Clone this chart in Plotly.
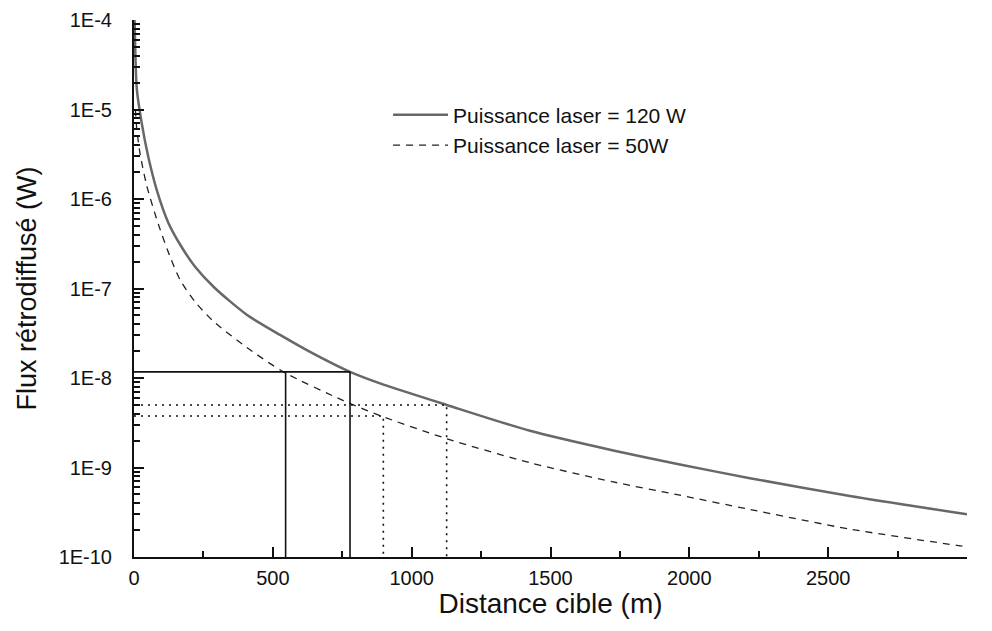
import plotly.graph_objects as go

# distance (m) / backscattered flux (W)
dist_120 = [2, 5, 10, 28, 51, 82, 124, 166, 220, 290, 406, 526, 646, 778,
            886, 1126, 1426, 1726, 1966, 2218, 2578, 3000]
flux_120 = [1.0e-4, 4.0e-5, 1.7e-5, 7.0e-6, 3.0e-6, 1.26e-6, 5.4e-7, 3.1e-7, 1.75e-7, 1.02e-7,
            5.1e-8, 3.03e-8, 1.87e-8, 1.17e-8,
            8.7e-9, 5.0e-9, 2.57e-9, 1.55e-9, 1.08e-9, 7.6e-10, 4.8e-10, 3.0e-10]

dist_50 = [5, 10, 22, 46, 88, 130, 166, 220, 286, 406, 538, 754, 886, 1126, 1426, 1726,
           1966, 2218, 2578, 2963, 3000]
flux_50 = [1.0e-5, 6.0e-6, 3.2e-6, 1.4e-6, 5.2e-7, 2.26e-7, 1.25e-7, 7.1e-8, 4.3e-8, 2.2e-8,
           1.17e-8, 5.6e-9, 3.8e-9, 2.1e-9, 1.13e-9, 6.9e-10, 4.9e-10, 3.4e-10, 2.05e-10,
           1.35e-10, 1.3e-10]

# read-off construction lines
solid_level = 1.17e-8
solid_x = [546, 778]
dotted_levels = [5.0e-9, 3.76e-9]
dotted_x = [1126, 898]

ytick_vals = [1e-10, 1e-9, 1e-8, 1e-7, 1e-6, 1e-5, 1e-4]
ytick_text = ["1E-10", "1E-9", "1E-8", "1E-7", "1E-6", "1E-5", "1E-4"]
xtick_vals = [0, 500, 1000, 1500, 2000, 2500, 3000]
# last label nudged left with non-breaking spaces so it is not cut at the window edge
xtick_text = ["0", "500", "1000", "1500", "2000", "2500", "3000\u00a0\u00a0\u00a0"]

FONT = "Liberation Sans, Arial, sans-serif"
INK = "#111111"
Y_MIN = 1e-10

fig = go.Figure()

fig.add_trace(go.Scatter(x=dist_120, y=flux_120, mode="lines",
                         name="Puissance laser = 120 W",
                         line=dict(color="#686868", width=2.5, shape="spline", smoothing=0.7)))
fig.add_trace(go.Scatter(x=dist_50, y=flux_50, mode="lines",
                         name="Puissance laser = 50W",
                         line=dict(color="#222222", width=1.3, dash="7px,6px",
                                   shape="spline", smoothing=0.7)))

# solid construction lines
fig.add_trace(go.Scatter(x=[0, max(solid_x)], y=[solid_level, solid_level], mode="lines",
                         showlegend=False, line=dict(color=INK, width=1.6)))
for xv in solid_x:
    fig.add_trace(go.Scatter(x=[xv, xv], y=[Y_MIN, solid_level], mode="lines",
                             showlegend=False, line=dict(color=INK, width=1.6)))

# dotted construction lines
for lvl, xv in zip(dotted_levels, dotted_x):
    fig.add_trace(go.Scatter(x=[0, xv, xv], y=[lvl, lvl, Y_MIN], mode="lines",
                             showlegend=False,
                             line=dict(color=INK, width=1.6, dash="2px,5px")))

fig.update_xaxes(range=[0, 3000], tickvals=xtick_vals, ticktext=xtick_text,
                 ticks="inside", ticklen=10,
                 tickwidth=1.5, tickcolor=INK, ticklabelstandoff=2, automargin=False,
                 minor=dict(ticks="inside", ticklen=6, dtick=250, tickcolor=INK),
                 showline=True, linecolor=INK, linewidth=2, showgrid=False,
                 zeroline=False, tickfont=dict(size=20, family=FONT, color=INK),
                 title=dict(text="Distance cible (m)", standoff=9,
                            font=dict(size=28, family=FONT, color=INK)))
fig.update_yaxes(type="log", range=[-10, -4], tickvals=ytick_vals, ticktext=ytick_text,
                 ticks="inside", ticklen=10, tickwidth=1.5, tickcolor=INK,
                 ticklabelstandoff=16, automargin=False,
                 minor=dict(ticks="inside", ticklen=6, dtick="D1", tickcolor=INK),
                 showline=True, linecolor=INK, linewidth=2, showgrid=False,
                 zeroline=False, tickfont=dict(size=20, family=FONT, color=INK),
                 title=dict(text="Flux rétrodiffusé (W)", standoff=14,
                            font=dict(size=27, family=FONT, color=INK)))

# page body margin is 8px; keep the page short enough to avoid a scrollbar
fig.update_layout(
    width=984, height=611,
    margin=dict(l=126, r=25, t=12, b=62, autoexpand=False),
    paper_bgcolor="white", plot_bgcolor="white",
    font=dict(family=FONT, color=INK),
    legend=dict(x=0.305, y=0.861, xanchor="left", yanchor="top",
                bgcolor="rgba(0,0,0,0)", font=dict(size=21, family=FONT, color=INK),
                tracegroupgap=0, itemwidth=55),
)

fig.write_html("out.html")
